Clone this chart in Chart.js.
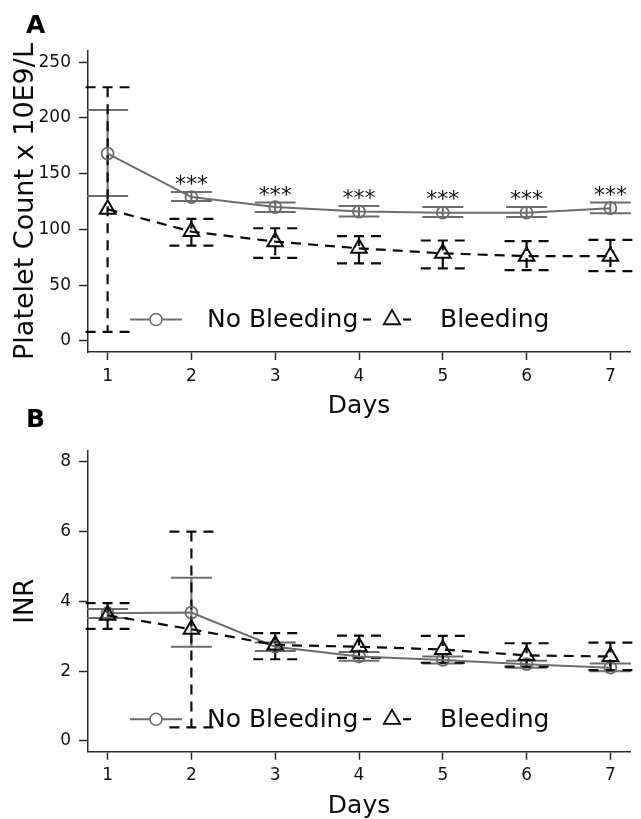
<!DOCTYPE html>
<html><head><meta charset="utf-8">
<script src="https://cdn.jsdelivr.net/npm/chart.js@4.4.1/dist/chart.umd.min.js"></script>
<style>
html,body{margin:0;padding:0;background:#fff;width:641px;height:819px;overflow:hidden;}
.wrap{position:absolute;left:0;width:641px;}
#wa{top:0;height:430px;}
#wb{top:400px;height:419px;}
</style></head><body>
<div class="wrap" id="wa"><canvas id="ca"></canvas></div>
<div class="wrap" id="wb"><canvas id="cb"></canvas></div>
<script>
// ---- data ----
const days = [1, 2, 3, 4, 5, 6, 7];
const seriesLabels = ['No Bleeding', 'Bleeding'];

const plateletNoBleed   = [168, 129, 120, 116, 115, 115, 119];
const plateletNoBleedLo = [130, 125.5, 115.5, 111.5, 111, 111, 114.5];
const plateletNoBleedHi = [207, 133.5, 124, 121, 120, 120, 124];
const plateletBleed     = [118, 98, 89, 83, 78.5, 76, 76];
const plateletBleedLo   = [8, 85.5, 74.5, 69.5, 65, 63.5, 62.5];
const plateletBleedHi   = [227.5, 109.5, 101, 94, 90, 89.5, 90.5];
const plateletSig       = ['', '***', '***', '***', '***', '***', '***'];
const plateletTicks     = [0, 50, 100, 150, 200, 250];

const inrNoBleed   = [3.66, 3.68, 2.7, 2.42, 2.32, 2.2, 2.1];
const inrNoBleedLo = [3.52, 2.7, 2.58, 2.3, 2.22, 2.1, 2.0];
const inrNoBleedHi = [3.78, 4.68, 2.82, 2.55, 2.42, 2.3, 2.22];
const inrBleed     = [3.6, 3.2, 2.75, 2.7, 2.62, 2.45, 2.42];
const inrBleedLo   = [3.21, 0.39, 2.34, 2.38, 2.24, 2.13, 2.03];
const inrBleedHi   = [3.95, 6.0, 3.09, 3.02, 3.01, 2.8, 2.82];
const inrTicks     = [0, 2, 4, 6, 8];

// ---- styles ----
const GREY = '#6c6c6c';
const BLACK = '#0a0a0a';
const AXIS = '#2a2a2a';
const FONT = 'DejaVu Sans';
Chart.defaults.font.family = FONT;
Chart.defaults.color = '#111';

const errorBarPlugin = {
  id: 'errorBars',
  beforeDatasetsDraw(chart) {
    const ctx = chart.ctx, xs = chart.scales.x, ys = chart.scales.y;
    chart.data.datasets.forEach((ds) => {
      ctx.save();
      ctx.strokeStyle = ds.borderColor;
      ctx.lineWidth = ds.errWidth;
      ds.data.forEach((p, j) => {
        const px = xs.getPixelForValue(p.x);
        const yl = ys.getPixelForValue(ds.errLo[j]);
        const yh = ys.getPixelForValue(ds.errHi[j]);
        const hw = ds.capHalf;
        ctx.setLineDash(ds.errDash);
        ctx.beginPath(); ctx.moveTo(px, yh); ctx.lineTo(px, yl); ctx.stroke();
        [yl, yh].forEach(yy => {
          ctx.beginPath(); ctx.moveTo(px - hw, yy); ctx.lineTo(px + hw, yy); ctx.stroke();
        });
      });
      ctx.restore();
    });
  }
};

const decorPlugin = {
  id: 'decor',
  afterDraw(chart, args, opts) {
    const ctx = chart.ctx, ca = chart.chartArea, xs = chart.scales.x, ys = chart.scales.y;
    ctx.save();
    // panel letter
    ctx.fillStyle = '#000';
    ctx.font = 'bold 25px ' + FONT;
    ctx.textBaseline = 'alphabetic';
    ctx.textAlign = 'left';
    ctx.fillText(opts.letter, 26, opts.letterY);
    // significance stars
    if (opts.sig) {
      const ds = chart.data.datasets[0];
      ctx.font = '22px ' + FONT;
      ctx.textAlign = 'center';
      ctx.fillStyle = '#111';
      ds.data.forEach((p, j) => {
        if (!opts.sig[j]) return;
        const px = xs.getPixelForValue(p.x);
        const py = ys.getPixelForValue(ds.errHi[j]);
        ctx.fillText(opts.sig[j], px, py - 1);
      });
    }
    // legend
    const yy = ca.bottom - 31.5;
    const L = ca.left;
    ctx.lineWidth = 2;
    ctx.strokeStyle = GREY;
    ctx.setLineDash([]);
    ctx.beginPath(); ctx.moveTo(L + 42, yy - 1); ctx.lineTo(L + 94, yy - 1); ctx.stroke();
    ctx.lineWidth = 1.6;
    ctx.beginPath(); ctx.arc(L + 68, yy - 1, 6, 0, Math.PI * 2); ctx.fillStyle = '#fff'; ctx.fill(); ctx.stroke();
    ctx.fillStyle = '#0a0a0a';
    ctx.font = '25px ' + FONT;
    ctx.textAlign = 'left';
    ctx.textBaseline = 'middle';
    ctx.fillText(chart.data.datasets[0].label, L + 119, yy);
    ctx.strokeStyle = BLACK;
    ctx.lineWidth = 2.2;
    ctx.beginPath(); ctx.moveTo(L + 275, yy - 1); ctx.lineTo(L + 283, yy - 1); ctx.stroke();
    ctx.beginPath(); ctx.moveTo(L + 315, yy - 1); ctx.lineTo(L + 323, yy - 1); ctx.stroke();
    const r = 9.5, tx = L + 304, ty = yy - 1;
    ctx.lineWidth = 1.8;
    ctx.beginPath();
    ctx.moveTo(tx, ty - r);
    ctx.lineTo(tx + r * Math.sin(2 * Math.PI / 3), ty + r / 2);
    ctx.lineTo(tx - r * Math.sin(2 * Math.PI / 3), ty + r / 2);
    ctx.closePath(); ctx.stroke();
    ctx.fillText(chart.data.datasets[1].label, L + 352, yy);
    ctx.restore();
  }
};

function makeDatasets(nb, nbLo, nbHi, b, bLo, bHi) {
  return [
    {
      label: seriesLabels[0],
      data: days.map((d, i) => ({x: d, y: nb[i]})),
      errLo: nbLo, errHi: nbHi, capHalf: 20.5, errDash: [], errWidth: 2,
      borderColor: GREY, borderWidth: 2, tension: 0,
      pointStyle: 'circle', pointRadius: 6, pointBorderWidth: 1.8,
      pointBorderColor: GREY, pointBackgroundColor: 'rgba(0,0,0,0)',
      order: 1
    },
    {
      label: seriesLabels[1],
      data: days.map((d, i) => ({x: d, y: b[i]})),
      errLo: bLo, errHi: bHi, capHalf: 22, errDash: [10, 7], errWidth: 2.2,
      borderColor: BLACK, borderWidth: 2.2, borderDash: [10, 7], tension: 0,
      pointStyle: 'triangle', pointRadius: 9, pointBorderWidth: 2,
      pointBorderColor: BLACK, pointBackgroundColor: 'rgba(0,0,0,0)',
      order: 0
    }
  ];
}

function makeOptions(cfg) {
  return {
    responsive: true,
    maintainAspectRatio: false,
    animation: false,
    devicePixelRatio: 1,
    layout: {padding: {top: cfg.padTop, right: 0, bottom: 0, left: 0}},
    plugins: {
      legend: {display: false},
      tooltip: {enabled: false},
      decor: {letter: cfg.letter, letterY: cfg.letterY, sig: cfg.sig}
    },
    scales: {
      x: {
        type: 'linear', min: 0.766, max: 7.234,
        afterBuildTicks: s => { s.ticks = days.map(v => ({value: v})); },
        afterFit: s => { s.height = cfg.xHeight; },
        grid: {drawOnChartArea: false, drawTicks: true, tickLength: 8, tickWidth: 1.5, tickColor: AXIS},
        border: {display: true, color: AXIS, width: 1.5},
        ticks: {padding: 6, font: {size: 17}, color: '#111', maxRotation: 0},
        title: {display: true, text: 'Days', color: '#0a0a0a', font: {size: 25, lineHeight: 1}, padding: {top: 0, bottom: cfg.xTitlePad}}
      },
      y: {
        type: 'linear', min: cfg.yMin, max: cfg.yMax,
        afterBuildTicks: s => { s.ticks = cfg.yTicks.map(v => ({value: v})); },
        afterFit: s => { s.width = 88; },
        grid: {drawOnChartArea: false, drawTicks: true, tickLength: 9, tickWidth: 1.5, tickColor: AXIS},
        border: {display: true, color: AXIS, width: 1.5},
        ticks: {padding: 8, font: {size: 17}, color: '#111'},
        title: {display: true, text: cfg.yTitle, color: '#0a0a0a', font: {size: cfg.yTitleSize, lineHeight: 1}, padding: {top: cfg.yTitlePad, bottom: 0}}
      }
    }
  };
}

new Chart(document.getElementById('ca'), {
  type: 'line',
  data: {datasets: makeDatasets(plateletNoBleed, plateletNoBleedLo, plateletNoBleedHi, plateletBleed, plateletBleedLo, plateletBleedHi)},
  options: makeOptions({padTop: 51, letter: 'A', letterY: 33, sig: plateletSig, xHeight: 78, xTitlePad: 11.5,
    yMin: -10, yMax: 260, yTicks: plateletTicks, yTitle: 'Platelet Count x 10E9/L', yTitleSize: 27, yTitlePad: 12}),
  plugins: [errorBarPlugin, decorPlugin]
});

new Chart(document.getElementById('cb'), {
  type: 'line',
  data: {datasets: makeDatasets(inrNoBleed, inrNoBleedLo, inrNoBleedHi, inrBleed, inrBleedLo, inrBleedHi)},
  options: makeOptions({padTop: 50.7, letter: 'B', letterY: 27, sig: null, xHeight: 67.3, xTitlePad: 0.5,
    yMin: -0.31, yMax: 8.32, yTicks: inrTicks, yTitle: 'INR', yTitleSize: 26, yTitlePad: 13}),
  plugins: [errorBarPlugin, decorPlugin]
});
</script>
</body></html>
